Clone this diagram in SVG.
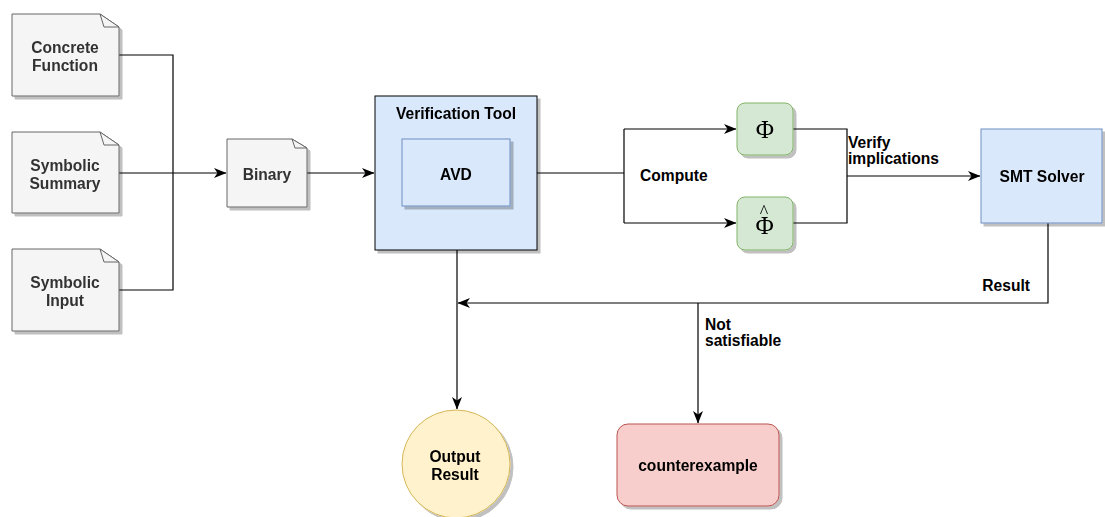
<svg xmlns="http://www.w3.org/2000/svg" width="1105" height="517" viewBox="0 0 1105 517">
<defs>
<filter id="sh" x="-10%" y="-10%" width="130%" height="130%">
<feGaussianBlur in="SourceAlpha" stdDeviation="0.7"/>
<feOffset dx="3" dy="3" result="o"/>
<feComponentTransfer><feFuncA type="linear" slope="0.25"/></feComponentTransfer>
<feMerge><feMergeNode/><feMergeNode in="SourceGraphic"/></feMerge>
</filter>
<marker id="arr" markerWidth="14" markerHeight="12" refX="12" refY="5" orient="auto" markerUnits="userSpaceOnUse">
<path d="M0,0 L12.5,5 L0,10 L3.5,5 Z" fill="#000"/>
</marker>
<style>
.note{fill:#f5f5f5;stroke:#666;stroke-width:1}
.fold{fill:#f5f5f5;stroke:#666;stroke-width:1}
.blue{fill:#dae8fc;stroke:#6c8ebf;stroke-width:1}
.green{fill:#d5e8d4;stroke:#82b366;stroke-width:1}
.yellow{fill:#fff2cc;stroke:#d6b656;stroke-width:1}
.red{fill:#f8cecc;stroke:#b85450;stroke-width:1}
.t{font-family:"Liberation Sans",Arial,sans-serif;font-weight:bold;font-size:15.6px;text-anchor:middle;fill:#000}
.tg{fill:#333}
.lbl{font-family:"Liberation Sans",Arial,sans-serif;font-weight:bold;font-size:15.6px;fill:#000}
.phi{font-family:"Liberation Serif","Times New Roman",serif;font-size:25px;text-anchor:middle;fill:#000}
.c{fill:none;stroke:#000;stroke-width:1.2}
</style>
</defs>

<g id="connectors">
<path class="c" d="M119,55 H173 V290 H119"/>
<path class="c" d="M119,173 H226" marker-end="url(#arr)"/>
<path class="c" d="M307,173 H374" marker-end="url(#arr)"/>
<path class="c" d="M510,173 H624"/>
<path class="c" d="M624,129 V223"/>
<path class="c" d="M624,129 H736" marker-end="url(#arr)"/>
<path class="c" d="M624,223 H736" marker-end="url(#arr)"/>
<path class="c" d="M793,129 H847 V223 H793"/>
<path class="c" d="M847,176 H980" marker-end="url(#arr)"/>
<path class="c" d="M1048,223 V303 H458" marker-end="url(#arr)"/>
<path class="c" d="M457,250 V409" marker-end="url(#arr)"/>
<path class="c" d="M698,303 V423" marker-end="url(#arr)"/>
<text class="lbl" x="640" y="181">Compute</text>
<text class="lbl" x="848" y="148">Verify</text>
<text class="lbl" x="848" y="164">implications</text>
<text class="lbl" x="1030" y="291" text-anchor="end">Result</text>
<text class="lbl" x="705" y="330">Not</text>
<text class="lbl" x="705" y="346">satisfiable</text>
</g>

<g id="concrete-function" filter="url(#sh)">
<path class="note" d="M12,14 H100 L119,27 V96 H12 Z"/>
<path class="fold" d="M100,14 L104,27 H119 Z"/>
<text class="t tg" x="65" y="53">Concrete</text>
<text class="t tg" x="65" y="71">Function</text>
</g>

<g id="symbolic-summary" filter="url(#sh)">
<path class="note" d="M12,132 H100 L119,145 V213 H12 Z"/>
<path class="fold" d="M100,132 L104,145 H119 Z"/>
<text class="t tg" x="65" y="171">Symbolic</text>
<text class="t tg" x="65" y="189">Summary</text>
</g>

<g id="symbolic-input" filter="url(#sh)">
<path class="note" d="M12,249 H100 L119,262 V331 H12 Z"/>
<path class="fold" d="M100,249 L104,262 H119 Z"/>
<text class="t tg" x="65" y="288">Symbolic</text>
<text class="t tg" x="65" y="306">Input</text>
</g>

<g id="binary" filter="url(#sh)">
<path class="note" d="M227,139 H292 L307,148 V207 H227 Z"/>
<path class="fold" d="M292,139 L295,148 H307 Z"/>
<text class="t tg" x="267" y="180">Binary</text>
</g>

<g id="verification-tool" filter="url(#sh)">
<rect x="375" y="96" width="162" height="154" fill="#dae8fc" stroke="#000" stroke-width="1"/>
<text class="t" x="456" y="119">Verification Tool</text>
</g>

<g id="avd" filter="url(#sh)">
<rect class="blue" x="402" y="139" width="108" height="67"/>
<text class="t" x="456" y="180">AVD</text>
</g>

<g id="phi" filter="url(#sh)">
<rect class="green" x="737" y="103" width="56" height="52" rx="8"/>
<text class="phi" x="765" y="138">Φ</text>
</g>

<g id="phi-hat" filter="url(#sh)">
<rect class="green" x="737" y="197" width="56" height="53" rx="8"/>
<text class="phi" x="755.5" y="234" style="text-anchor:start">Φ<tspan dx="-14" dy="-16" style="font-size:18px">^</tspan></text>
</g>

<g id="smt-solver" filter="url(#sh)">
<rect class="blue" x="981" y="129" width="121" height="94"/>
<text class="t" x="1042" y="182">SMT Solver</text>
</g>

<g id="output-result" filter="url(#sh)">
<circle class="yellow" cx="456" cy="464" r="54"/>
<text class="t" x="455" y="462">Output</text>
<text class="t" x="455" y="480">Result</text>
</g>

<g id="counterexample" filter="url(#sh)">
<rect class="red" x="617" y="424" width="162" height="82" rx="11"/>
<text class="t" x="698" y="471">counterexample</text>
</g>
</svg>
